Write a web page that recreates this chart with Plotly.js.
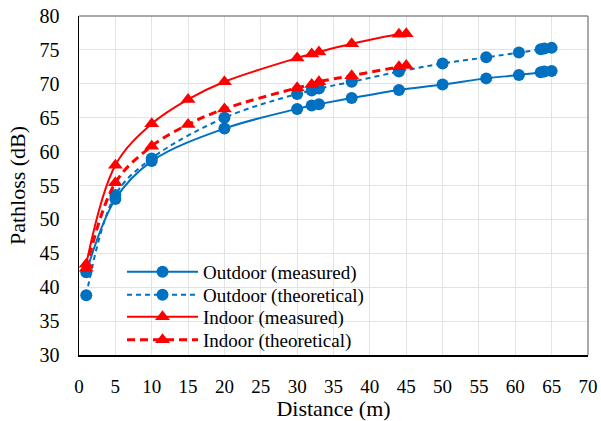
<!DOCTYPE html>
<html><head><meta charset="utf-8">
<script src="https://cdn.plot.ly/plotly-3.0.1.min.js"></script>
<style>html,body{margin:0;padding:0;background:#fff}</style>
</head><body><div id="chart" style="width:601px;height:421px"></div>
<script>
const outdoorX = [1, 5, 10, 20, 30, 32, 33, 37.5, 44, 50, 56, 60.5, 63.5, 64, 65];
const outdoorMeasured = [42.2, 53.0, 58.6, 63.4, 66.3, 66.8, 67.0, 67.9, 69.1, 69.9, 70.8, 71.3, 71.7, 71.8, 71.9];
const outdoorTheoretical = [38.8, 53.6, 59.0, 65.0, 68.5, 69.0, 69.3, 70.3, 71.8, 73.0, 73.9, 74.6, 75.1, 75.2, 75.3];
const indoorX = [1, 5, 10, 15, 20, 30, 32, 33, 37.5, 44, 45];
const indoorMeasured = [43.4, 58.0, 64.1, 67.7, 70.3, 73.8, 74.4, 74.7, 75.9, 77.3, 77.4];
const indoorTheoretical = [42.8, 55.4, 60.8, 64.0, 66.3, 69.4, 69.9, 70.3, 71.2, 72.5, 72.7];
const seriesNames = ['Outdoor (measured)', 'Outdoor (theoretical)', 'Indoor (measured)', 'Indoor (theoretical)'];
const xTicks = [0,5,10,15,20,25,30,35,40,45,50,55,60,65,70];
const yTicks = [30,35,40,45,50,55,60,65,70,75,80];

const blue = '#0070C0', red = '#FF0000';
const traces = [
  {x: outdoorX, y: outdoorMeasured, name: seriesNames[0], mode: 'lines+markers', legend: 'legend',
   line: {color: blue, width: 2, shape: 'spline'}, marker: {symbol: 'circle', size: 12, color: blue}},
  {x: outdoorX, y: outdoorTheoretical, name: seriesNames[1], mode: 'lines+markers', legend: 'legend2',
   line: {color: blue, width: 2, dash: '5px,4px', shape: 'spline'}, marker: {symbol: 'circle', size: 12, color: blue}},
  {x: indoorX, y: indoorMeasured, name: seriesNames[2], mode: 'lines+markers', legend: 'legend3',
   line: {color: red, width: 2, shape: 'spline'}, marker: {symbol: 'triangle-up', size: 13, color: red}},
  {x: indoorX, y: indoorTheoretical, name: seriesNames[3], mode: 'lines+markers', legend: 'legend4',
   line: {color: red, width: 3, dash: '8px,5px', shape: 'spline'}, marker: {symbol: 'triangle-up', size: 13, color: red}}
];
const fam = 'Liberation Serif';
function leg(yc) {
  return {x: 0.0845, y: yc, xanchor: 'left', yanchor: 'middle', bgcolor: 'rgba(255,255,255,0)',
    font: {family: fam, size: 19, color: '#000'}, itemwidth: 71, borderwidth: 0};
}
const layout = {
  width: 601, height: 421,
  margin: {l: 79, r: 13, t: 16, b: 66},
  paper_bgcolor: '#fff', plot_bgcolor: '#fff',
  font: {family: fam, size: 19, color: '#000'},
  showlegend: true,
  legend: leg(0.2448), legend2: leg(0.177), legend3: leg(0.1121), legend4: leg(0.0442),
  xaxis: {range: [0, 70], tickvals: xTicks, ticktext: xTicks.map(String),
    showgrid: true, gridcolor: '#e3e3e3', gridwidth: 1, zeroline: false,
    showline: true, linecolor: '#000', linewidth: 1.5, ticks: '',
    ticklabelstandoff: 14, tickfont: {family: fam, size: 19, color: '#000'},
    title: {text: 'Distance (m)', font: {family: fam, size: 22, color: '#000'}, standoff: 6}},
  yaxis: {range: [30, 80], tickvals: yTicks, ticktext: yTicks.map(String),
    showgrid: true, gridcolor: '#e3e3e3', gridwidth: 1, zeroline: false,
    showline: true, linecolor: '#000', linewidth: 1.5, ticks: '',
    ticklabelstandoff: 14, tickfont: {family: fam, size: 20, color: '#000'},
    title: {text: 'Pathloss (dB)', font: {family: fam, size: 22, color: '#000'}, standoff: 8}},
  shapes: [
    {type: 'line', xref: 'paper', yref: 'paper', x0: 0, x1: 1, y0: 1, y1: 1, line: {color: '#8c8c8c', width: 1.5}},
    {type: 'line', xref: 'paper', yref: 'paper', x0: 1, x1: 1, y0: 0, y1: 1, line: {color: '#8c8c8c', width: 1.5}}
  ]
};
Plotly.newPlot('chart', traces, layout, {displayModeBar: false, staticPlot: true});
</script></body></html>
